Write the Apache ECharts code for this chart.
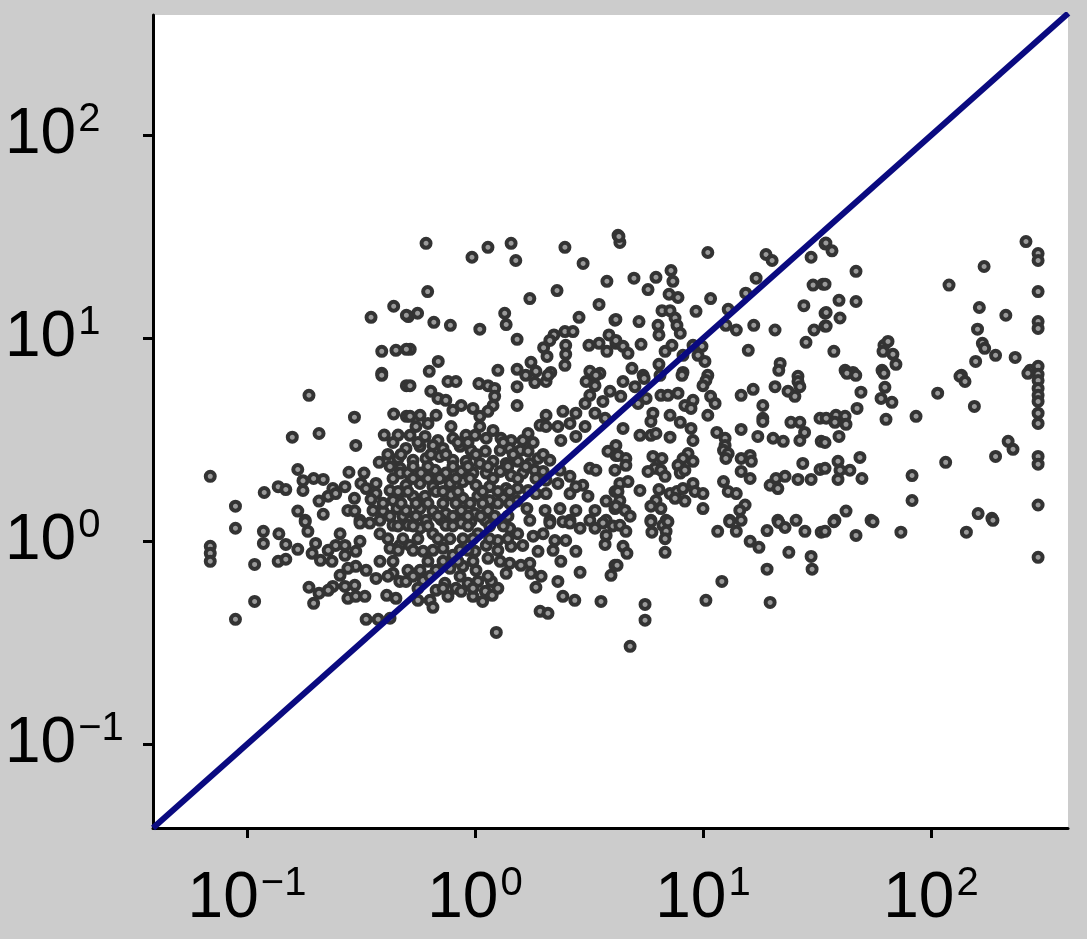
<!DOCTYPE html>
<html>
<head>
<meta charset="utf-8">
<script src="https://cdn.jsdelivr.net/npm/echarts@6/dist/echarts.min.js"></script>
<style>
  html, body { margin: 0; padding: 0; background: #cccccc; }
  #chart { width: 1087px; height: 939px; }
</style>
</head>
<body>
<div id="chart"></div>
<script>
// tick positions (decades) and axis range
const tickValues = [0.1, 1, 10, 100];
const tickExponents = ['−1', '0', '1', '2'];
const axisMin = 0.0387;
const xAxisMax = 399;
const yAxisMax = 392;

// identity line y = x
const lineX = [0.0387, 400];

// scatter points
const xs = [
  4.32, 0.61, 1.44, 1.14, 0.97, 1.51, 2.48, 2.98, 3.79, 0.62, 1.74, 2.29, 3.50, 0.51, 0.56, 0.66, 0.78, 1.05, 1.35, 1.37,
  1.53, 4.11, 2.86, 2.22, 2.13, 2.48, 2.69, 2.50, 2.00, 2.07, 2.50, 2.48, 3.16, 3.50, 3.87, 3.79, 4.15, 0.52, 0.69, 0.63,
  1.26, 1.53, 1.76, 1.85, 2.15, 3.19, 3.53, 4.24, 0.44, 0.35, 0.50, 0.39, 0.45, 0.50, 0.39,
  4.28, 10.5, 18.9, 20.1, 29.8, 34.3, 4.98, 6.22, 7.24, 7.38, 5.74, 7.10, 7.77, 10.8, 17.1, 15.4, 30.4, 33.6, 27.7, 34.3,
  4.15, 5.24, 6.61, 7.17, 7.54, 7.69, 7.95, 6.35, 6.41, 9.32, 12.9, 12.6, 14.0, 16.7, 20.7, 30.7, 34.3, 28.3, 4.15, 4.46,
  4.69, 5.35, 6.82, 7.31, 9.04, 9.90, 9.51, 10.2, 8.17, 15.8, 21.8, 21.5, 6.41, 4.88, 8.17, 5.46, 10.5, 26.1,
  34.6, 36.8, 46.9, 34.3, 39.5, 46.9, 34.7, 39.9, 34.7, 37.5, 42.0, 45.5, 61.0, 70.2, 68.1, 62.2, 64.8, 61.6, 120, 171,
  261, 295, 295, 295, 163, 213, 160, 295, 295, 168, 172, 192, 234, 157, 136, 272, 295, 295,
  0.39, 0.50, 0.187, 0.296, 0.44, 0.50, 0.158, 0.207, 0.40, 0.46, 0.30, 0.38, 0.46, 0.47, 0.47, 0.069, 0.167, 0.176, 0.196, 0.216,
  0.176, 0.137, 0.148, 0.119, 0.28, 0.326, 0.316, 0.269, 0.333, 0.368, 0.368, 0.238, 0.227, 0.245, 0.207, 0.296, 0.35, 0.424, 0.437, 0.483,
  0.089, 0.167, 0.216, 0.277, 0.297, 0.357, 0.395, 0.455, 0.18, 0.313, 0.383, 0.483,
  0.089, 0.118, 0.138, 0.118, 0.069, 0.069, 0.069, 0.148, 0.167, 0.18, 0.185, 0.200, 0.193, 0.21, 0.137, 0.148, 0.108, 0.256, 0.227, 0.245,
  0.269, 0.269, 0.30, 0.236, 0.313, 0.346, 0.313, 0.383, 0.437, 0.424, 0.468, 0.383, 0.333, 0.30, 0.277, 0.256, 0.269, 0.297, 0.238, 0.187,
  0.207, 0.196, 0.227, 0.277, 0.30, 0.329, 0.368, 0.437, 0.468, 0.41, 0.45, 0.108, 0.089, 0.333, 0.376, 0.424,
  0.519, 0.761, 0.825, 1.04, 1.14, 1.22, 1.53, 1.83, 2.05, 2.09, 1.67, 3.07, 3.39, 3.36, 3.91, 0.64, 0.688, 0.745, 1.22, 1.20,
  1.53, 3.19, 3.04, 3.64, 0.519, 0.574, 0.675, 0.80, 0.87, 0.98, 1.05, 1.14, 2.05, 2.43, 2.77, 3.36, 3.72, 1.93, 2.05, 2.31,
  2.61, 3.04, 0.551, 0.622, 0.785, 1.05, 1.20, 1.71, 0.519, 0.604, 0.688, 0.80, 0.913, 1.0, 1.12, 1.30, 1.44, 1.62, 2.38, 2.77,
  0.498, 0.574, 0.654, 0.724, 0.86, 0.96, 1.11, 1.29, 1.42, 1.58, 1.71, 1.89, 2.13, 3.83, 4.15, 0.535, 0.61, 0.70, 0.80, 0.913,
  1.05, 1.20, 1.37, 1.54, 1.74, 1.83, 1.99, 2.36, 2.61, 3.19, 3.39, 0.508, 0.58, 0.668, 0.745, 0.87, 0.98, 1.12, 1.29, 1.44,
  1.62, 2.05, 2.31, 2.97, 0.498, 0.574, 0.654, 0.777, 0.885, 1.01, 1.16, 1.37, 1.54, 1.71, 1.85, 2.05, 2.61, 2.77, 3.13, 3.76,
  4.11, 0.535, 0.604, 0.675, 0.785, 0.885, 1.03, 1.16, 1.33, 1.53, 1.69, 2.03, 2.36, 2.77, 3.36, 4.11, 0.498, 0.574, 0.654, 0.745,
  0.87, 1.0, 1.14, 0.519, 0.61, 0.71, 0.825, 0.96, 1.11, 1.74, 2.13, 2.61, 3.19, 3.76,
  4.46, 5.03, 5.52, 6.48, 8.09, 10.3, 10.0, 14.7, 16.6, 20.7, 23.6, 25.3, 26.1, 26.6, 4.36, 5.19, 5.63, 6.54, 7.02, 7.77,
  8.33, 9.04, 8.86, 10.8, 11.3, 18.3, 18.3, 18.3, 6.03, 7.17, 10.5, 5.91, 7.95, 24.3, 26.6, 32.6, 4.46, 5.29, 5.91, 6.22,
  7.17, 8.86, 9.04, 11.5, 12.5, 14.7, 17.4, 20.3, 22.5, 26.6, 27.9, 33.0, 4.15, 12.5, 12.3, 12.9, 12.6, 4.24, 4.59, 6.03,
  6.61, 8.60, 8.17, 9.04, 14.7, 16.1, 16.3, 4.59, 4.11, 6.16, 5.74, 6.54, 6.82, 7.77, 7.95, 8.33, 14.7, 16.1, 27.4, 32.6,
  19.7, 20.9, 22.9, 21.3, 26.1, 29.8, 4.32, 4.69, 4.24, 5.29, 6.41, 7.17, 7.69, 8.17, 9.04, 9.22, 10.0, 7.54, 8.33, 6.22,
  5.91, 6.54, 12.3, 12.9, 14.0, 15.3, 14.5, 10.0, 4.32, 4.15, 4.55, 4.79, 5.91, 6.89, 13.1, 14.7, 21.3, 25.6,
  42.8, 46.8, 62.2, 134, 141, 266, 295, 295, 295, 295, 295, 295, 49.3, 62.8, 60.4, 67.4, 107, 155, 47.4, 38.3,
  34.7, 42.0, 37.9, 42.4, 63.5, 86.0, 39.5, 34.3, 218, 229, 192, 295, 295, 39.1, 48.8, 39.9, 44.1, 39.1, 49.8, 34.3,
  82.6, 116, 82.6, 295, 42.4, 37.9, 54.6, 161, 185,
  0.508, 0.574, 0.654, 0.745, 0.87, 0.885, 1.03, 1.26, 1.42, 1.54, 1.80, 1.99, 2.13, 2.43, 2.61, 2.89, 3.36, 3.64, 3.76, 4.03,
  2.24, 2.50, 2.77, 3.72, 1.62, 1.44, 1.89, 2.20, 2.38, 1.74, 1.59, 1.42, 1.29, 1.37, 1.76, 1.95, 2.89, 3.95, 4.11, 0.519,
  0.592, 0.724, 0.80, 0.885, 1.01, 1.14, 1.12, 1.0, 0.508, 0.574, 0.675, 0.777, 0.498, 0.592, 0.738, 0.825, 0.932, 1.03, 1.18, 0.562,
  0.635, 0.675, 0.761, 0.87, 0.98, 1.11, 1.08, 1.19, 0.654, 1.85, 2.31, 2.43, 2.74, 3.57, 1.93, 2.09, 1.24,
  4.32, 4.59, 4.46, 4.64, 4.20, 5.91, 6.67, 7.02, 5.97, 6.89, 6.82, 6.82, 13.1, 11.6, 14.0, 16.1, 17.6, 19.1, 21.5, 22.9,
  28.0, 33.0, 23.8, 29.8, 30.1, 19.1, 12.1, 10.3, 19.7, 5.57, 5.57, 4.79,
  37.5, 34.3, 46.9, 55.7, 73.8, 143, 187, 295,
  // dense core of the cloud
  0.437, 0.562, 0.842, 0.932, 1.33, 1.80,
  0.415, 0.474, 0.641, 0.745, 1.01, 1.47, 1.99,
  0.424, 0.535, 0.622, 0.80, 0.932, 1.14, 1.395, 1.67,
  0.437, 0.535, 0.622, 0.70, 0.825, 0.951, 1.20, 1.54, 1.85,
  0.460, 0.508, 0.724, 0.842, 1.08, 1.26, 1.42,
  0.395, 0.474, 0.551, 0.622, 0.724, 0.825, 0.951, 1.08, 1.26, 1.42,
  0.424, 0.551, 0.688, 0.80, 0.932, 1.06, 1.22, 1.395,
  0.460, 0.535, 0.622, 0.80, 0.932, 1.16, 1.33,
  0.415, 0.483, 0.562, 0.688, 0.777, 0.98, 1.16, 1.395,
  0.460, 0.535, 0.654, 0.86, 0.932, 1.26,
  0.437, 0.622, 0.724, 0.842, 0.98,
  0.415, 0.535, 0.635, 0.86, 1.14,
  0.562, 0.724, 0.98, 1.26
];
const ys = [
  29.7, 29.4, 29.4, 28.1, 25.1, 24.2, 28.1, 23.4, 19.1, 17.0, 15.7, 17.2, 14.7, 12.8, 13.3, 12.0, 11.6, 11.1, 13.3, 11.7,
  9.89, 12.3, 12.7, 10.4, 9.77, 10.8, 10.8, 9.24, 9.0, 8.15, 8.35, 7.37, 9.24, 9.45, 10.4, 8.63, 9.45, 8.83, 7.70, 6.88,
  6.96, 7.04, 7.62, 6.88, 6.80, 6.88, 6.73, 32.2, 14.4, 12.7, 13.0, 8.63, 8.73, 8.83, 6.73,
  31.8, 26.5, 25.9, 24.2, 25.1, 29.2, 19.8, 20.0, 21.6, 19.1, 17.4, 16.5, 15.9, 15.7, 19.8, 16.7, 18.3, 18.5, 14.5, 13.3,
  12.4, 12.1, 13.7, 13.7, 12.6, 11.6, 10.6, 11.6, 10.4, 13.6, 13.9, 11.6, 11.0, 11.6, 11.0, 11.0, 11.5, 9.56, 9.77, 9.14,
  8.44, 9.35, 8.63, 9.24, 9.24, 9.14, 8.25, 7.70, 8.25, 8.73, 7.53, 6.96, 7.45, 7.12, 6.80, 6.58, 6.58, 6.51,
  29.5, 27.0, 21.4, 18.5, 15.4, 15.2, 13.4, 12.6, 11.5, 8.63, 6.96, 6.80, 6.96, 7.45, 8.35, 9.24, 9.66, 8.63, 18.3, 22.6,
  30.0, 26.2, 24.2, 17.0, 14.2, 13.0, 11.1, 12.1, 11.2, 9.45, 8.93, 8.25, 8.06, 7.70, 6.58, 6.96, 7.29, 6.65,
  6.58, 5.85, 5.24, 4.09, 4.24, 4.13, 3.26, 3.40, 3.34, 3.34, 2.97, 2.45, 2.56, 2.29, 2.17, 2.09, 2.26, 1.99, 2.04, 2.02,
  1.78, 1.86, 1.80, 1.74, 2.19, 2.17, 1.93, 1.86, 1.82, 1.93, 1.72, 1.82, 1.67, 1.72, 1.58, 1.63, 1.61, 1.78, 1.59, 1.76,
  1.49, 1.41, 1.36, 1.42, 1.41, 1.42, 1.41, 1.45, 1.27, 1.27, 1.27, 1.33,
  1.16, 1.12, 1.09, 0.977, 0.945, 0.873, 0.797, 0.966, 0.913, 1.25, 1.12, 0.977, 0.873, 0.806, 0.797, 0.816, 0.770, 1.09, 0.903, 0.955,
  0.955, 0.853, 0.893, 0.797, 1.23, 1.23, 1.00, 1.09, 1.20, 0.924, 0.955, 0.797, 0.72, 0.753, 0.736, 0.68, 0.60, 0.607, 0.60, 0.594,
  0.555, 0.495, 0.574, 0.524, 0.536, 0.536, 0.657, 0.696, 0.635, 0.542, 0.524, 0.506, 0.413, 0.413, 0.413, 0.418,
  5.85, 6.13, 6.13, 5.99, 5.85, 5.67, 5.78, 6.06, 6.13, 6.58, 6.58, 6.13, 6.58, 5.85, 5.49, 5.49, 5.06, 4.95, 5.18, 4.67,
  4.67, 5.24, 4.78, 4.89, 4.13, 4.18, 4.18, 4.42, 4.67, 4.52, 4.13, 4.37, 4.18, 4.37, 4.28, 4.28, 4.04, 3.73, 3.68, 3.68,
  3.81, 3.68, 3.68, 3.81, 3.68, 3.68, 3.52, 3.40, 3.33, 3.29, 3.14, 3.22, 3.33, 3.33, 3.22, 3.22, 3.14, 3.14, 3.14, 3.29,
  2.87, 2.94, 2.97, 2.87, 2.94, 2.81, 2.78, 2.81, 2.87, 2.81, 2.78, 2.56, 2.51, 2.78, 2.65, 2.51, 2.56, 2.62, 2.51, 2.48,
  2.42, 2.48, 2.42, 2.48, 2.42, 2.24, 2.21, 2.24, 2.09, 2.29, 2.24, 2.17, 2.17, 2.24, 2.17, 2.21, 2.17, 2.17, 2.21, 2.11,
  2.17, 2.00, 1.93, 1.89, 1.89, 1.93, 1.86, 1.93, 1.97, 1.89, 1.86, 1.82, 1.82, 1.78, 1.72, 1.72, 1.72, 1.86, 1.67, 1.58,
  1.76, 1.67, 1.67, 1.76, 1.69, 1.63, 1.67, 1.59, 1.63, 1.58, 1.45, 1.42, 1.45, 1.42, 1.42, 1.45, 1.42, 1.45, 1.41, 1.37,
  1.42, 1.37, 1.42, 1.27, 1.27, 1.28, 1.27, 1.25, 1.27, 1.27, 1.27, 1.27, 1.27, 1.27,
  6.13, 5.78, 6.35, 6.58, 6.58, 6.20, 5.85, 5.24, 5.61, 5.78, 5.49, 5.18, 6.13, 5.78, 5.18, 4.78, 5.06, 5.24, 5.24, 5.37,
  4.67, 4.95, 4.52, 5.18, 4.78, 4.67, 4.04, 3.90, 4.28, 4.18, 4.18, 3.90, 3.86, 3.86, 3.86, 4.04, 3.60, 3.33, 3.33, 3.40,
  3.26, 3.60, 3.14, 3.44, 3.22, 3.56, 3.29, 3.22, 3.11, 3.14, 3.44, 3.11, 2.97, 2.97, 2.81, 2.71, 2.56, 2.65, 2.56, 2.62,
  2.56, 2.71, 2.56, 2.48, 2.56, 2.65, 2.48, 2.37, 2.24, 2.29, 2.21, 2.24, 2.09, 2.37, 2.17, 2.24, 2.21, 2.04, 2.42, 2.26,
  1.89, 2.04, 2.09, 1.82, 2.02, 2.02, 1.93, 1.97, 1.76, 1.78, 1.80, 1.72, 1.76, 1.82, 1.93, 1.76, 1.72, 1.63, 1.58, 1.59,
  1.49, 1.45, 1.97, 1.76, 1.72, 1.51, 1.42, 1.45, 1.59, 1.49, 1.42, 1.33, 1.27, 1.27, 1.27, 1.27, 1.27, 1.27,
  6.73, 6.58, 6.73, 6.51, 6.13, 6.73, 6.20, 5.67, 5.24, 4.89, 4.28, 3.81, 5.43, 5.74, 5.06, 4.84, 5.37, 4.62, 4.52, 4.18,
  4.04, 4.13, 3.86, 3.77, 3.99, 4.13, 3.29, 3.07, 3.11, 2.84, 2.62, 2.62, 2.40, 2.48, 2.59, 2.24, 2.24, 2.02, 2.04, 2.29,
  2.11, 2.45, 1.59, 1.51, 1.41, 1.27, 1.27, 1.37, 1.30,
  1.20, 1.16, 1.09, 1.20, 1.23, 1.03, 1.09, 1.01, 1.16, 1.09, 1.06, 1.09, 1.23, 1.25, 1.23, 1.16, 1.16, 1.23, 1.07, 1.19,
  1.01, 1.01, 0.893, 0.966, 0.955, 0.945, 0.893, 0.903, 0.797, 0.779, 0.762, 0.779, 0.797, 0.696, 0.696, 0.673, 0.704, 0.68, 0.762, 0.955,
  0.893, 0.924, 0.853, 0.753, 0.72, 0.825, 0.955, 0.893, 0.72, 0.72, 0.72, 0.736, 0.635, 0.642, 0.621, 0.587, 0.621, 0.635, 0.635, 0.512,
  0.512, 0.574, 0.536, 0.567, 0.536, 0.567, 0.506, 0.542, 0.473, 0.594, 0.635, 0.536, 0.512, 0.506, 0.452, 0.442, 0.356,
  1.20, 1.12, 0.945, 0.873, 0.762, 1.25, 1.20, 1.25, 1.11, 1.12, 1.03, 0.883, 1.25, 1.12, 1.12, 1.00, 0.934, 1.13, 1.24, 1.17,
  1.12, 1.11, 0.883, 0.843, 0.729, 0.729, 0.635, 0.512, 0.500, 0.489, 0.409, 0.304,
  1.25, 1.12, 1.07, 1.25, 1.11, 1.11, 1.27, 0.834,
  // dense core of the cloud
  3.07, 3.07, 3.07, 3.07, 3.07, 3.07,
  2.68, 2.68, 2.68, 2.68, 2.68, 2.68, 2.68,
  2.34, 2.34, 2.34, 2.34, 2.34, 2.34, 2.34, 2.34,
  2.04, 2.04, 2.04, 2.04, 2.04, 2.04, 2.04, 2.04, 2.04,
  1.76, 1.76, 1.76, 1.76, 1.76, 1.76, 1.76,
  1.54, 1.54, 1.54, 1.54, 1.54, 1.54, 1.54, 1.54, 1.54, 1.54,
  1.33, 1.33, 1.33, 1.33, 1.33, 1.33, 1.33, 1.33,
  1.19, 1.19, 1.19, 1.19, 1.19, 1.19, 1.19,
  1.03, 1.03, 1.03, 1.03, 1.03, 1.03, 1.03, 1.03,
  0.903, 0.903, 0.903, 0.903, 0.903, 0.903,
  0.797, 0.797, 0.797, 0.797, 0.797,
  0.673, 0.673, 0.673, 0.673, 0.673,
  0.587, 0.587, 0.587, 0.587
];

const points = xs.map((x, i) => [x, ys[i]]);

const labelRich = {
  b: { fontFamily: 'Liberation Sans, Arial', fontSize: 64, color: '#000' },
  s: { fontFamily: 'Liberation Sans, Arial', fontSize: 40, color: '#000', verticalAlign: 'top', padding: [0, 0, 30, 2] }
};

function decadeLabel(value) {
  const i = tickValues.findIndex(t => Math.abs(Math.log10(t) - Math.log10(value)) < 1e-6);
  if (i < 0) return '';
  return '{b|10}{s|' + tickExponents[i] + '}';
}

const chart = echarts.init(document.getElementById('chart'));
const option = {
  backgroundColor: '#cccccc',
  animation: false,
  grid: {
    left: 153, top: 15, right: 19, bottom: 111,
    show: true, backgroundColor: '#ffffff', borderWidth: 0
  },
  xAxis: {
    type: 'log', min: axisMin, max: xAxisMax,
    splitLine: { show: false },
    axisLine: { onZero: false, lineStyle: { color: '#000', width: 3 } },
    axisTick: { customValues: tickValues, length: 10, lineStyle: { color: '#000', width: 3 } },
    axisLabel: { customValues: tickValues, margin: 36, formatter: decadeLabel, rich: labelRich }
  },
  yAxis: {
    type: 'log', min: axisMin, max: yAxisMax,
    splitLine: { show: false },
    axisLine: { onZero: false, lineStyle: { color: '#000', width: 3 } },
    axisTick: { customValues: tickValues, length: 10, lineStyle: { color: '#000', width: 3 } },
    axisLabel: { customValues: tickValues, margin: 148, align: 'left', formatter: decadeLabel, rich: labelRich }
  },
  series: [
    {
      type: 'scatter',
      data: points,
      symbol: 'circle',
      symbolSize: 9,
      itemStyle: { color: '#9a9a9a', borderColor: '#333333', borderWidth: 4, opacity: 1 },
      z: 2
    },
    {
      type: 'line',
      data: lineX.map(v => [v, v]),
      symbol: 'none',
      lineStyle: { color: '#0a0a80', width: 6 },
      clip: true,
      z: 3
    }
  ]
};
chart.setOption(option);
</script>
</body>
</html>
